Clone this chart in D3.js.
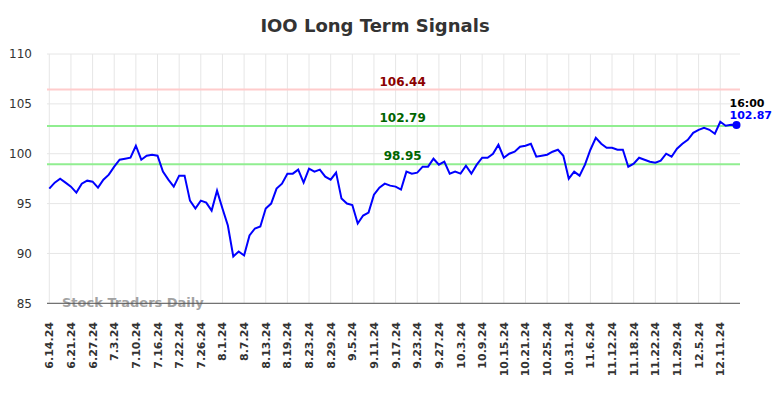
<html>
<head>
  <meta charset="UTF-8">
  <title>IOO Long Term Signals</title>
  <script src="https://cdn.jsdelivr.net/npm/d3@7"></script>
  <style>
    body { margin: 0; background: #fff; }
    svg { font-family: "DejaVu Sans", sans-serif; }
  </style>
</head>
<body>
<svg width="784" height="398"></svg>
<script>
// closing prices, one per trading day (6.14.24 .. 12.16.24)
var values = [96.5, 97.1, 97.5, 97.1, 96.7, 96.1, 97.0, 97.3, 97.2, 96.6,
              97.4, 97.9, 98.7, 99.4, 99.5, 99.6, 100.8, 99.4, 99.8, 99.9,
              99.8, 98.2, 97.4, 96.7, 97.8, 97.8, 95.3, 94.5, 95.3, 95.1,
              94.3, 96.3, 94.5, 92.8, 89.7, 90.2, 89.8, 91.8, 92.5, 92.7,
              94.5, 95.0, 96.5, 97.0, 98.0, 98.0, 98.4, 97.1, 98.5, 98.2,
              98.4, 97.7, 97.4, 98.1, 95.5, 95.0, 94.85, 93.0, 93.8, 94.1,
              95.9, 96.6, 97.0, 96.8, 96.7, 96.4, 98.2, 98.0, 98.1, 98.7,
              98.7, 99.5, 98.9, 99.2, 98.0, 98.2, 98.0, 98.8, 98.0, 98.9,
              99.6, 99.6, 100.0, 100.9, 99.6, 100.0, 100.2, 100.7, 100.8, 101.0,
              99.7, 99.8, 99.9, 100.2, 100.4, 99.8, 97.5, 98.2, 97.8, 98.9,
              100.4, 101.6, 101.0, 100.6, 100.6, 100.4, 100.4, 98.7, 99.0, 99.6,
              99.4, 99.2, 99.1, 99.3, 100.0, 99.7, 100.5, 101.0, 101.4, 102.1,
              102.4, 102.6, 102.4, 102.0, 103.2, 102.8, 102.9, 102.87];

// a label every 4th trading day
var tickLabels = ["6.14.24", "6.21.24", "6.27.24", "7.3.24", "7.10.24", "7.16.24",
                  "7.22.24", "7.26.24", "8.1.24", "8.7.24", "8.13.24", "8.19.24",
                  "8.23.24", "8.29.24", "9.5.24", "9.11.24", "9.17.24", "9.23.24",
                  "9.27.24", "10.3.24", "10.9.24", "10.15.24", "10.21.24", "10.25.24",
                  "10.31.24", "11.6.24", "11.12.24", "11.18.24", "11.22.24", "11.29.24",
                  "12.5.24", "12.11.24"];
var tickStep = 4;

var yTicks = [85, 90, 95, 100, 105, 110];

var signals = [106.44, 102.79, 98.95];
var signalKinds = ["high", "mid", "low"];

var lastTime = "16:00";

var svg = d3.select("svg");
var plotLeft = 47, plotRight = 740, plotTop = 54, plotBottom = 303.3;

var x = d3.scaleLinear().domain([0, values.length - 1]).range([49.3, 736.5]);
var y = d3.scaleLinear().domain([85, 110]).range([plotBottom, plotTop]);

svg.append("text")
   .attr("x", 375).attr("y", 32)
   .attr("text-anchor", "middle")
   .style("font-size", "18px").style("font-weight", "bold")
   .style("fill", "#333")
   .text("IOO Long Term Signals");

// horizontal grid
svg.append("g").selectAll("line").data(yTicks).enter().append("line")
   .attr("x1", plotLeft).attr("x2", plotRight)
   .attr("y1", function(d) { return y(d); })
   .attr("y2", function(d) { return y(d); })
   .style("stroke", "#e6e6e6").style("stroke-width", 1);

// vertical grid
var tickIdx = tickLabels.map(function(d, i) { return i * tickStep; });
svg.append("g").selectAll("line").data(tickIdx).enter().append("line")
   .attr("x1", function(d) { return x(d); })
   .attr("x2", function(d) { return x(d); })
   .attr("y1", plotTop).attr("y2", plotBottom)
   .style("stroke", "#e6e6e6").style("stroke-width", 1);

// y labels
svg.append("g").selectAll("text").data(yTicks).enter().append("text")
   .attr("x", 32)
   .attr("y", function(d) { return y(d); })
   .attr("dy", "0.36em")
   .attr("text-anchor", "end")
   .style("font-size", "12px").style("fill", "#333")
   .text(function(d) { return d; });

// x labels
svg.append("g").selectAll("text").data(tickIdx).enter().append("text")
   .attr("transform", function(d) { return "translate(" + (x(d) + 4) + ",322) rotate(-90)"; })
   .attr("text-anchor", "end")
   .style("font-size", "11px").style("font-weight", "bold").style("fill", "#333")
   .text(function(d, i) { return tickLabels[i]; });

// signal lines
svg.append("g").selectAll("line").data(signals).enter().append("line")
   .attr("x1", plotLeft).attr("x2", plotRight)
   .attr("y1", function(d) { return y(d); })
   .attr("y2", function(d) { return y(d); })
   .style("stroke", function(d, i) { return signalKinds[i] == "high" ? "#ffcccc" : "#90ee90"; })
   .style("stroke-width", 2);

svg.append("g").selectAll("text").data(signals).enter().append("text")
   .attr("x", x(65.3))
   .attr("y", function(d) { return y(d) - 4; })
   .attr("text-anchor", "middle")
   .style("font-size", "12px").style("font-weight", "bold")
   .style("fill", function(d, i) { return signalKinds[i] == "high" ? "#8b0000" : "#006400"; })
   .text(function(d) { return d.toFixed(2); });

// watermark
svg.append("text")
   .attr("x", 62).attr("y", 307)
   .style("font-size", "13px").style("font-weight", "bold")
   .style("fill", "#999").style("opacity", 0.9)
   .text("Stock Traders Daily");

// bottom axis line
svg.append("line")
   .attr("x1", plotLeft).attr("x2", plotRight)
   .attr("y1", plotBottom).attr("y2", plotBottom)
   .style("stroke", "#555").style("stroke-width", 1);

// price line
var line = d3.line()
   .x(function(d, i) { return x(i); })
   .y(function(d) { return y(d); });

svg.append("path").datum(values)
   .attr("d", line)
   .style("fill", "none").style("stroke", "#0000ff").style("stroke-width", 2);

var n = values.length - 1;
svg.append("circle")
   .attr("cx", x(n)).attr("cy", y(values[n])).attr("r", 4)
   .style("fill", "#0000ff");

svg.append("text")
   .attr("x", x(n) - 7).attr("y", y(values[n]) - 18.5)
   .style("font-size", "11px").style("font-weight", "bold").style("fill", "#000")
   .text(lastTime);

svg.append("text")
   .attr("x", x(n) - 7).attr("y", y(values[n]) - 6)
   .style("font-size", "11px").style("font-weight", "bold").style("fill", "#0000ff")
   .text(values[n].toFixed(2));
</script>
</body>
</html>
